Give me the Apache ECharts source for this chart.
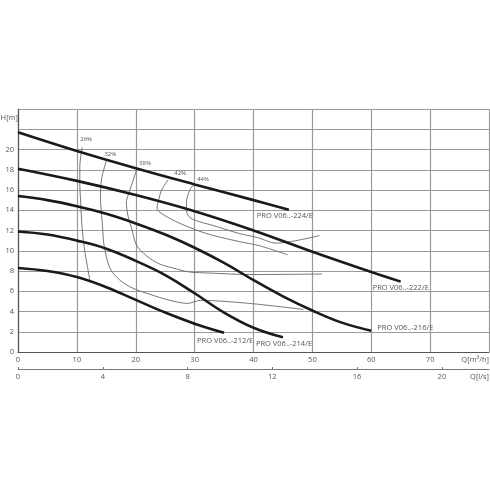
<!DOCTYPE html>
<html><head><meta charset="utf-8">
<script src="https://cdn.jsdelivr.net/npm/echarts@6/dist/echarts.min.js"></script>
<style>html,body{margin:0;padding:0;background:#fff}#c{width:490px;height:490px}</style>
</head><body><div id="c"></div>
<script>
// Pump curves: flow Q [m3/h] and head H [m]
const q224 = [0, 10, 20, 30, 40, 46];
const h224 = [21.7, 19.85, 18.15, 16.55, 15.0, 14.05];
const q222 = [0, 10, 20, 30, 40, 50, 60, 65];
const h222 = [18.1, 16.9, 15.5, 13.9, 12.0, 9.9, 7.9, 6.95];
const q216 = [0, 5, 10, 15, 20, 25, 30, 35, 40, 45, 50, 55, 60];
const h216 = [15.4, 15.0, 14.4, 13.65, 12.7, 11.6, 10.3, 8.8, 7.1, 5.5, 4.1, 2.9, 2.1];
const q214 = [0, 5, 10, 15, 20, 25, 30, 35, 40, 45];
const h214 = [11.9, 11.6, 11.0, 10.2, 9.0, 7.6, 5.8, 3.9, 2.4, 1.45];
const q212 = [0, 5, 10, 15, 20, 25, 30, 35];
const h212 = [8.3, 8.0, 7.4, 6.4, 5.15, 3.9, 2.8, 1.9];
const pumpNames = ['PRO V06..-224/E', 'PRO V06..-222/E', 'PRO V06..-216/E', 'PRO V06..-214/E', 'PRO V06..-212/E'];

// Efficiency iso-lines (from top point downwards)
const q26 = [10.9, 10.5, 10.5, 10.6, 10.8, 11.1, 11.4, 12.2];
const h26 = [20.2, 18.3, 16.5, 15.3, 13.0, 11.0, 9.75, 7.1];
const q32 = [15.0, 14.2, 14.0, 14.2, 14.35, 14.6, 15.6, 17.3, 19.5, 22.4, 25.8, 28.8, 31.0, 39.3, 48.5];
const h32 = [18.9, 17.1, 15.3, 13.5, 12.5, 10.6, 8.3, 7.1, 6.3, 5.7, 5.1, 4.8, 5.1, 4.8, 4.2];
const q38 = [20.2, 19.3, 18.7, 18.4, 18.7, 19.3, 20.1, 21.8, 24.0, 26.3, 29.1, 32.5, 39.3, 51.6];
const h38 = [18.1, 16.5, 15.5, 14.8, 13.4, 12.2, 10.6, 9.5, 8.7, 8.3, 7.9, 7.8, 7.65, 7.7];
const q42 = [25.5, 24.4, 23.8, 23.6, 24.6, 27.5, 32.0, 37.6, 41.0, 45.8];
const h42 = [17.0, 16.0, 14.8, 14.2, 13.6, 12.7, 11.7, 10.9, 10.5, 9.6];
const q44 = [29.9, 29.2, 28.6, 28.7, 29.7, 33.1, 37.6, 40.7, 43.8, 51.2];
const h44 = [16.6, 16.0, 14.8, 13.7, 13.1, 12.5, 11.7, 11.3, 10.75, 11.5];
const effNames = ['26%', '32%', '38%', '42%', '44%'];

// Axis ticks
const qTicks = [0, 10, 20, 30, 40, 50, 60, 70, 80];
const lsTicks = [0, 4, 8, 12, 16, 20];
const hTicks = [0, 2, 4, 6, 8, 10, 12, 14, 16, 18, 20, 22, 24];

const zip = (a, b) => a.map((v, i) => [v, b[i]]);

const pumpData = [[q224, h224], [q222, h222], [q216, h216], [q214, h214], [q212, h212]];
const pumpLabelOffsets = [[-32, 6], [-28, 6], [6, -3], [-27, 7], [-27, 8]];
const effData = [[q26, h26], [q32, h32], [q38, h38], [q42, h42], [q44, h44]];
const effLabelOffsets = [[4, -8], [4, -6], [8, -5], [12, -7], [9, -5]];

const textColor = '#555';
const fontFamily = '"Open Sans", "DejaVu Sans", sans-serif';

const series = [];
pumpData.forEach((d, i) => {
  series.push({
    type: 'line', name: pumpNames[i], data: zip(d[0], d[1]),
    smooth: 0.4, showSymbol: false, symbol: 'none',
    lineStyle: { color: '#1a1a1a', width: 2.6 },
    endLabel: { show: true, formatter: pumpNames[i], distance: 0, offset: pumpLabelOffsets[i],
      align: 'left', verticalAlign: 'middle', color: textColor, fontSize: 7.5, fontFamily: fontFamily },
    z: 3
  });
});
effData.forEach((d, i) => {
  series.push({
    type: 'line', name: effNames[i], data: zip(d[0], d[1]).reverse(),
    smooth: 0.3, showSymbol: false, symbol: 'none',
    lineStyle: { color: '#666', width: 0.9 },
    endLabel: { show: true, formatter: effNames[i], distance: 0, offset: effLabelOffsets[i],
      align: 'center', verticalAlign: 'middle', color: textColor, fontSize: 6, fontFamily: fontFamily },
    z: 2
  });
});

const chart = echarts.init(document.getElementById('c'), null, { renderer: 'canvas' });
chart.setOption({
  animation: false,
  backgroundColor: '#fff',
  grid: { left: 18, right: 1, top: 109, bottom: 138, containLabel: false, outerBoundsMode: 'none' },
  xAxis: [{
    type: 'value', min: qTicks[0], max: qTicks[qTicks.length - 1], interval: qTicks[1] - qTicks[0],
    axisLine: { show: true, lineStyle: { color: '#555', width: 1.2 } },
    axisTick: { show: false },
    splitLine: { show: true, lineStyle: { color: '#9a9a9a', width: 1.2 } },
    axisLabel: { color: textColor, fontSize: 7.5, fontFamily: fontFamily, margin: 4,
      alignMaxLabel: 'right', showMaxLabel: true,
      formatter: v => v === qTicks[qTicks.length - 1] ? 'Q[m³/h]' : String(v) }
  }, {
    type: 'value', position: 'bottom', offset: 17,
    min: 0, max: qTicks[qTicks.length - 1] / 3.6, interval: lsTicks[1] - lsTicks[0],
    axisLine: { show: true, onZero: false, lineStyle: { color: '#777', width: 1.2 } },
    axisTick: { show: true, inside: true, length: 2, lineStyle: { color: '#777' } },
    splitLine: { show: false },
    axisLabel: { color: textColor, fontSize: 7.5, fontFamily: fontFamily, margin: 4, showMaxLabel: false },
    name: 'Q[l/s]', nameLocation: 'end', nameGap: 0,
    nameTextStyle: { color: textColor, fontSize: 7.5, fontFamily: fontFamily, align: 'right', verticalAlign: 'top', padding: [4, 0, 0, 0] }
  }],
  yAxis: [{
    type: 'value', min: hTicks[0], max: hTicks[hTicks.length - 1], interval: hTicks[1] - hTicks[0],
    axisLine: { show: true, lineStyle: { color: '#555', width: 1.2 } },
    axisTick: { show: false },
    splitLine: { show: true, lineStyle: { color: '#9a9a9a', width: 1.2 } },
    axisLabel: { color: textColor, fontSize: 7.5, fontFamily: fontFamily, margin: 4,
      formatter: v => v >= 22 ? '' : String(v) },
    name: 'H[m]', nameLocation: 'end', nameGap: -9,
    nameTextStyle: { color: textColor, fontSize: 7.5, fontFamily: fontFamily, align: 'right', verticalAlign: 'middle', padding: [0, 0, 0, 0] }
  }],
  series: series
});
</script>
</body></html>
